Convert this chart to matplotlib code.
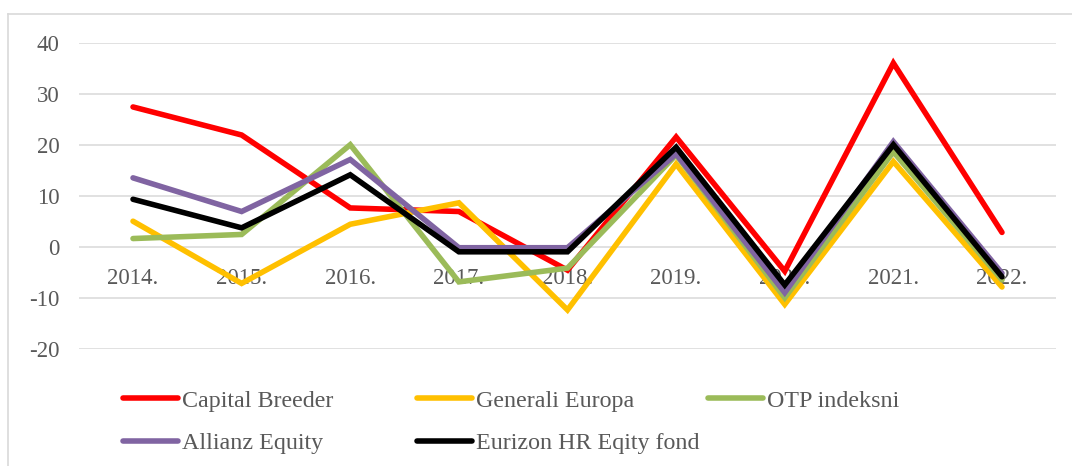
#!/usr/bin/env python3
"""Annual returns of equity funds, 2014-2022"""

import matplotlib.pyplot as plt
from matplotlib.lines import Line2D

plt.rcParams['font.family'] = ['Liberation Serif', 'DejaVu Serif']
plt.rcParams['axes.unicode_minus'] = False

years = ['2014.', '2015.', '2016.', '2017.', '2018.', '2019.', '2020.', '2021.', '2022.']

capital_breeder = [27.4, 21.9, 7.6, 6.9, -4.6, 21.5, -4.8, 36.0, 2.8]
generali_europa = [5.0, -7.2, 4.4, 8.6, -12.4, 16.2, -11.3, 16.7, -7.9]
otp_indeksni = [1.6, 2.4, 20.0, -6.9, -4.2, 18.0, -10.0, 18.6, -6.5]
allianz_equity = [13.5, 6.9, 17.1, -0.2, -0.2, 18.2, -9.0, 20.6, -5.2]
eurizon_hr = [9.3, 3.7, 14.1, -1.0, -1.0, 19.5, -7.5, 20.0, -5.9]

series = [
    ('Capital Breeder', capital_breeder, '#FF0000'),
    ('Generali Europa', generali_europa, '#FFC000'),
    ('OTP indeksni', otp_indeksni, '#9BBB59'),
    ('Allianz Equity', allianz_equity, '#8064A2'),
    ('Eurizon HR Eqity fond', eurizon_hr, '#000000'),
]

W, H = 1072, 466
fig = plt.figure(figsize=(W / 100, H / 100), dpi=100)
fig.patch.set_facecolor('white')

# axes box in pixels: x 78.7..1056.3, y 42.7..348.7
ax = fig.add_axes([78.7 / W, 1 - 348.7 / H, (1056.3 - 78.7) / W, (348.7 - 42.7) / H])

x = range(len(years))
lines = []
for name, vals, color in series:
    ln, = ax.plot(x, vals, color=color, linewidth=4.0, label=name,
                  solid_joinstyle='miter', solid_capstyle='round')
    lines.append(ln)

ax.set_xlim(-0.5, len(years) - 0.5)
ax.set_ylim(-20, 40)
ax.set_yticks(range(-20, 41, 10))
ax.grid(axis='y', color='#D9D9D9', linewidth=1.1)
ax.set_axisbelow(True)

for s in ['top', 'right', 'left']:
    ax.spines[s].set_visible(False)
ax.spines['bottom'].set_position(('data', 0))
ax.spines['bottom'].set_visible(False)

ax.set_xticks(list(x))
ax.set_xticklabels(years)
ax.tick_params(axis='x', length=0, pad=15, labelsize=16.5, labelcolor='#595959')
ax.tick_params(axis='y', length=0, pad=14, labelsize=16.5, labelcolor='#595959')

# legend: three equal-width columns, filled row by row
col_x = [123, 417, 708]
columns = [[lines[0], lines[3]], [lines[1], lines[4]], [lines[2]]]
for cx, handles in zip(col_x, columns):
    leg = fig.legend(handles=handles, loc='upper left',
                     bbox_to_anchor=(cx / W, 1 - 390 / H), frameon=False,
                     fontsize=17.3, handlelength=2.3, handletextpad=0.17,
                     labelspacing=0.85, borderaxespad=0, borderpad=0)
    for t in leg.get_texts():
        t.set_color('#595959')

# chart frame (extends past right and bottom edges)
fig.add_artist(Line2D([8 / W, 1.0], [1 - 14 / H, 1 - 14 / H], color='#D9D9D9', linewidth=1.2))
fig.add_artist(Line2D([8 / W, 8 / W], [0.0, 1 - 14 / H], color='#D9D9D9', linewidth=1.2))

plt.savefig('out.png', dpi=100, facecolor='white')
plt.close()
